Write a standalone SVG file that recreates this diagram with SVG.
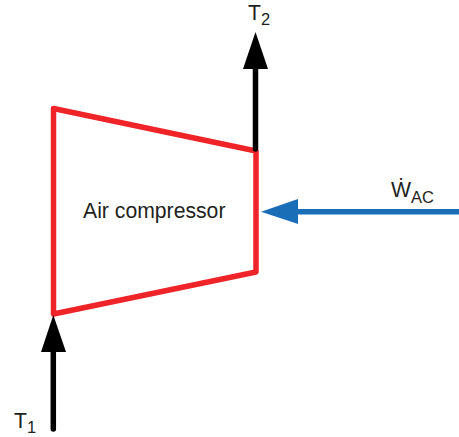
<svg xmlns="http://www.w3.org/2000/svg" width="459" height="437" viewBox="0 0 459 437">
<style>
text{font-family:"Liberation Sans",Arial,sans-serif;fill:#231f20;font-size:21.2px}
.sub{font-size:16.5px}
.k{stroke:#000;stroke-width:5.5;stroke-linecap:round;fill:none}
</style>
<rect width="459" height="437" fill="#fff"/>
<g id="compressor">
<polygon points="53.5,108.5 256,151 256,272 53.5,314" fill="none" stroke="#ee2429" stroke-width="5.5" stroke-linejoin="round"/>
<text x="83" y="218">Air compressor</text>
</g>
<g id="connectors">
<line class="k" x1="53.3" y1="429" x2="53.3" y2="345"/>
<polygon points="53.3,315 41,352 66,352" fill="#000"/>
<line class="k" x1="255.5" y1="149" x2="255.5" y2="62"/>
<polygon points="255.5,32 243,69 268,69" fill="#000"/>
<line x1="459" y1="211.7" x2="292" y2="211.7" stroke="#1a6eb8" stroke-width="5.5"/>
<polygon points="261,211.7 298,199 298,224" fill="#1a6eb8"/>
</g>
<g id="t2"><text x="248" y="20">T<tspan class="sub" x="261" y="25">2</tspan></text></g>
<g id="t1"><text x="14" y="428">T<tspan class="sub" x="27" y="433">1</tspan></text></g>
<g id="wac"><text x="391" y="197">Ẇ<tspan class="sub" x="411" y="203">AC</tspan></text></g>
</svg>
